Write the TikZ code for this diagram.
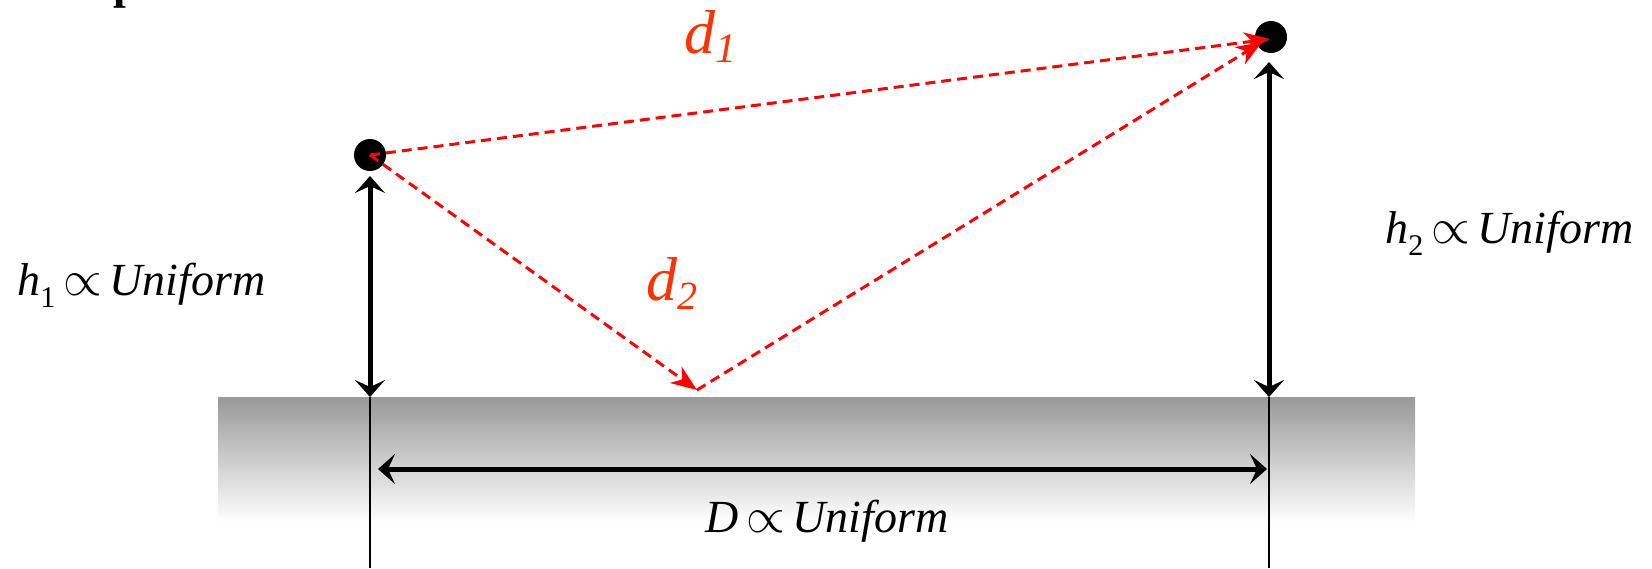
\documentclass[tikz,border=0pt]{standalone}
\usepackage{fontspec}
\setmainfont{Liberation Serif}
\usetikzlibrary{arrows.meta}
\definecolor{lblred}{RGB}{255,51,0}
\definecolor{gnd}{RGB}{153,153,153}
\tikzset{
  blk/.style={line width=2.5pt,{Stealth[length=8.5pt,width=15pt,inset=3.5pt]}-{Stealth[length=8.5pt,width=15pt,inset=3.5pt]}},
  ray/.style={red,line width=1.5pt,dash pattern=on 5pt off 3pt,-{Stealth[length=13pt,width=10pt,inset=4pt]}},
  thinline/.style={line width=1pt},
  dot/.style={circle,fill=black,minimum size=16pt,inner sep=0pt},
  lbl/.style={anchor=base west,inner sep=0pt,font=\fontsize{23}{26}\selectfont},
  dlbl/.style={anchor=base west,inner sep=0pt,text=lblred,font=\fontsize{31}{34}\selectfont\itshape},
}
\begin{document}
\begin{tikzpicture}[x=0.5pt,y=-0.5pt]
\useasboundingbox (0,0) rectangle (1652,568);
% ground
\shade[top color=gnd,bottom color=white] (218,397) rectangle (1415,522);
% cut-off title fragment
\node[anchor=base west,inner sep=0pt,font=\fontsize{23}{26}\selectfont\bfseries] (title) at (113,-2) {p};
% coordinates
\coordinate (l0) at (370,397);
\coordinate (lb) at (370,568);
\coordinate (r0) at (1269,397);
\coordinate (rb) at (1269,568);
\coordinate (lt) at (370,176);
\coordinate (rt) at (1269,62);
\coordinate (da) at (378,469);
\coordinate (db) at (1267,469);
\coordinate (g) at (697,390);
\coordinate (t1) at (1270,39);
\coordinate (t2) at (1262,42);
% thin lines
\draw[thinline] (l0) -- (lb);
\draw[thinline] (r0) -- (rb);
% black arrows
\draw[blk] (lt) -- (l0);
\draw[blk] (rt) -- (r0);
\draw[blk] (da) -- (db);
% dots
\node[dot] (p1) at (370,155) {};
\node[dot] (p2) at (1271,37) {};
% rays
\draw[ray] (p1.center) -- (t1);
\draw[ray] (p1.center) -- (g);
\draw[ray] (g) -- (t2);
% labels
\node[dlbl] (d1) at (684,53) {d\raisebox{-4.5pt}{\fontsize{21}{21}\selectfont 1}};
\node[dlbl] (d2) at (646,300) {d\raisebox{-4.5pt}{\fontsize{20}{20}\selectfont 2}};
\node[lbl] (h1) at (17,295) {\textit{h}\raisebox{-6pt}{\fontsize{15}{15}\selectfont 1}\,$\propto$\,\textit{Uniform}};
\node[lbl] (h2) at (1385,243) {\textit{h}\raisebox{-6pt}{\fontsize{15}{15}\selectfont 2}\,$\propto$\,\textit{Uniform}};
\node[lbl] (D) at (705,532) {\textit{D}\,$\propto$\,\textit{Uniform}};
\end{tikzpicture}
\end{document}
